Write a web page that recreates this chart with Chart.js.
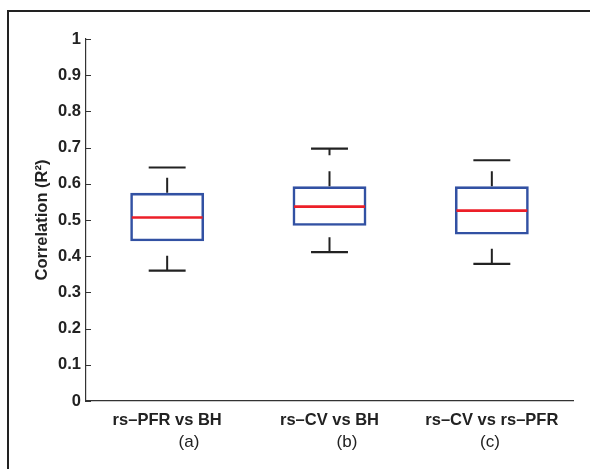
<!DOCTYPE html>
<html>
<head>
<meta charset="utf-8">
<script src="https://cdn.jsdelivr.net/npm/chart.js@4"></script>
<style>
    html, body { margin: 0; padding: 0; background: #fff; }
    #wrap { position: relative; width: 590px; height: 469px; overflow: hidden; }
    #frame { position: absolute; left: 7px; top: 10px; width: 700px; height: 600px;
        border-left: 2.5px solid #222; border-top: 2.5px solid #222; }
    canvas { position: absolute; left: 0; top: 0; }
    .cap { position: absolute; top: 432px; font: 17px "Liberation Sans", Arial, sans-serif;
        color: #222; transform: translateX(-50%); }
</style>
</head>
<body>
<div id="wrap">
    <div id="frame"></div>
    <canvas id="box" width="590" height="469"></canvas>
    <div class="cap" style="left:189px">(a)</div>
    <div class="cap" style="left:347px">(b)</div>
    <div class="cap" style="left:490px">(c)</div>
</div>
<script>
const categories = ["rs\u2013PFR vs BH", "rs\u2013CV vs BH", "rs\u2013CV vs rs\u2013PFR"];
const whiskerLow = [0.36, 0.411, 0.379];
const q1 = [0.441, 0.484, 0.46];
const median = [0.507, 0.537, 0.526];
const q3 = [0.575, 0.593, 0.593];
const whiskerHigh = [0.645, 0.697, 0.665];
const yTickLabels = ["0", "0.1", "0.2", "0.3", "0.4", "0.5", "0.6", "0.7", "0.8", "0.9", "1"];

const FONT = "'Liberation Sans', Arial, Helvetica, sans-serif";

// whiskers, caps, medians and inward y ticks
const boxExtras = {
    id: "boxExtras",
    afterDatasetsDraw(chart) {
        const { ctx, scales: { x, y } } = chart;
        const bars = chart.getDatasetMeta(0).data;
        ctx.save();
        bars.forEach((bar, i) => {
            const cx = x.getPixelForValue(i);
            const half = bar.width / 2;
            // dashed whiskers
            ctx.strokeStyle = "#222";
            ctx.lineWidth = 2;
            ctx.setLineDash([15, 16]);
            ctx.beginPath();
            ctx.moveTo(cx, y.getPixelForValue(q3[i]));
            ctx.lineTo(cx, y.getPixelForValue(whiskerHigh[i]));
            ctx.moveTo(cx, y.getPixelForValue(whiskerLow[i]));
            ctx.lineTo(cx, y.getPixelForValue(q1[i]));
            ctx.stroke();
            ctx.setLineDash([]);
            // caps
            ctx.lineWidth = 2.2;
            ctx.beginPath();
            [whiskerHigh[i], whiskerLow[i]].forEach(v => {
                const py = y.getPixelForValue(v);
                ctx.moveTo(cx - half / 2, py);
                ctx.lineTo(cx + half / 2, py);
            });
            ctx.stroke();
            // median
            ctx.strokeStyle = "#ec1f28";
            ctx.lineWidth = 2.6;
            ctx.beginPath();
            const my = y.getPixelForValue(median[i]);
            ctx.moveTo(cx - half + 1.5, my);
            ctx.lineTo(cx + half - 1.5, my);
            ctx.stroke();
        });
        // y ticks point into the plot
        ctx.strokeStyle = "#333";
        ctx.lineWidth = 1;
        ctx.beginPath();
        y.ticks.forEach(t => {
            const py = Math.round(y.getPixelForValue(t.value)) + 0.5;
            ctx.moveTo(x.left, py);
            ctx.lineTo(x.left + 5, py);
        });
        ctx.stroke();
        ctx.restore();
    },
};

new Chart(document.getElementById("box"), {
    type: "bar",
    data: {
        labels: categories,
        datasets: [
            {
                data: q1.map((v, i) => [v, q3[i]]),
                backgroundColor: "rgba(0,0,0,0)",
                borderColor: "#3251a3",
                borderWidth: 2.6,
                borderSkipped: false,
                categoryPercentage: 1,
                barPercentage: 0.455,
            },
        ],
    },
    options: {
        responsive: false,
        animation: false,
        layout: { padding: { top: 39, right: 17, bottom: 0, left: 0 } },
        plugins: {
            legend: { display: false },
            tooltip: { enabled: false },
        },
        scales: {
            x: {
                grid: { display: false, drawTicks: false },
                border: { display: true, color: "#333", width: 1.2 },
                ticks: {
                    color: "#222",
                    padding: 10,
                    maxRotation: 0,
                    font: { family: FONT, size: 16.5, weight: "bold" },
                },
                afterFit(scale) { scale.height = 68; },
            },
            y: {
                min: 0,
                max: 1,
                grid: { display: false, drawTicks: false },
                border: { display: true, color: "#333", width: 1.2 },
                ticks: {
                    stepSize: 0.1,
                    color: "#222",
                    padding: 5,
                    font: { family: FONT, size: 16.5, weight: "bold" },
                    callback: (v, i) => yTickLabels[i],
                },
                title: {
                    display: true,
                    text: "Correlation (R\u00B2)",
                    color: "#222",
                    padding: { top: 33, bottom: 0 },
                    font: { family: FONT, size: 16.5, weight: "bold" },
                },
                afterFit(scale) { scale.width = 86; },
            },
        },
    },
    plugins: [boxExtras],
});
</script>
</body>
</html>
